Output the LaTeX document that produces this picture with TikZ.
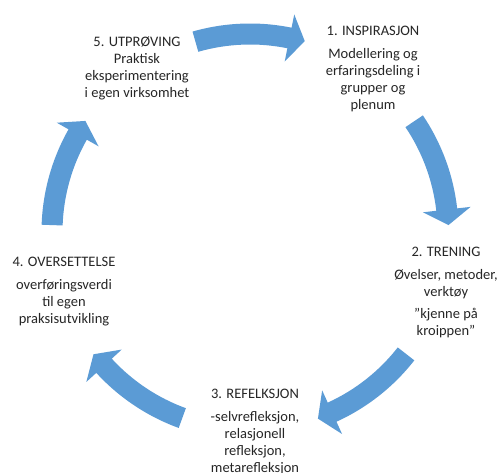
\documentclass[tikz,border=0pt]{standalone}
\usepackage{fontspec}
\setmainfont{Carlito}
\definecolor{cycleblue}{HTML}{5B9BD5}
\begin{document}
\begin{tikzpicture}[x=1pt,y=1pt,
  cyclearrow/.style={fill=cycleblue, draw=none},
  steptext/.style={align=center, inner sep=0pt, text=black!85,
    font=\fontsize{14.5}{17}\selectfont}]
\useasboundingbox (0,0) rectangle (502,472);
\fill[white] (0,0) rectangle (502,472);

% five curved arrows on a common circle, running clockwise
\foreach \a in {90,18,-54,-126,162}{
  \pgfmathsetmacro{\ta}{\a+16}
  \pgfmathsetmacro{\ba}{\a-11.5}
  \pgfmathsetmacro{\pa}{\a-16}
  \fill[cyclearrow, shift={(250,240)}]
    (\ta:208.5) arc[start angle=\ta, end angle=\ba, radius=208.5]
    -- (\ba:222) -- (\pa:198.6) -- (\ba:174) -- (\ba:187.5)
    arc[start angle=\ba, end angle=\ta, radius=187.5] -- cycle;
}

% step labels
\node[steptext] (s1) at (373,403) {1. INSPIRASJON\\[6pt]Modellering og\\erfaringsdeling i\\grupper og\\plenum};
\node[steptext] (s2) at (446,180) {2. TRENING\\[6pt]Øvelser, metoder,\\verktøy\\[5pt]\symbol{34}kjenne på\\kroippen\symbol{34}};
\node[steptext, anchor=north] (s3) at (255,83) {3. REFELKSJON\\[6pt]-selvrefleksjon,\\relasjonell\\refleksjon,\\metarefleksjon};
\node[steptext] (s4) at (64,180) {4. OVERSETTELSE\\[6pt]overføringsverdi\\til egen\\praksisutvikling};
\node[steptext] (s5) at (137,404) {5. UTPRØVING\\Praktisk\\eksperimentering\\i egen virksomhet};
\end{tikzpicture}
\end{document}
